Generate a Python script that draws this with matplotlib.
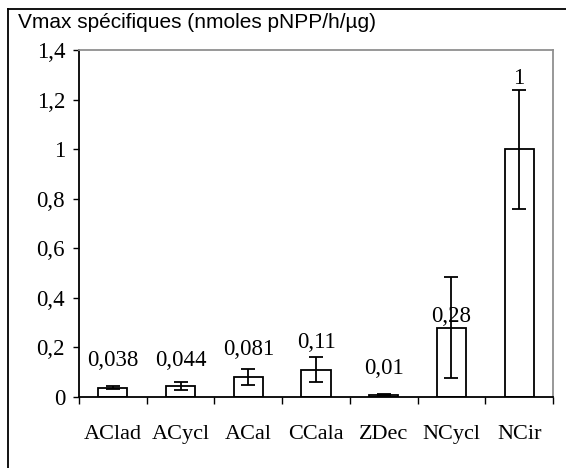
import matplotlib.pyplot as plt
from matplotlib.lines import Line2D
from matplotlib.ticker import FuncFormatter
import numpy as np

# Data
categories = ['AClad', 'ACycl', 'ACal', 'CCala', 'ZDec', 'NCycl', 'NCir']
vmax = [0.038, 0.044, 0.081, 0.11, 0.01, 0.28, 1.0]
errors = [0.005, 0.015, 0.031, 0.05, 0.002, 0.205, 0.24]
value_labels = ['0,038', '0,044', '0,081', '0,11', '0,01', '0,28', '1']
label_heights = [0.146, 0.146, 0.19, 0.221, 0.117, 0.323, 1.285]

serif = 'Liberation Serif'
sans = 'Liberation Sans'

fig = plt.figure(figsize=(5.66, 4.68), dpi=100)
ax = fig.add_axes([79 / 566, 71 / 468, 474 / 566, 347 / 468])

x = np.arange(len(categories))
ax.bar(x, vmax, width=0.43, color='white', edgecolor='black', linewidth=1.3, zorder=2)
ax.errorbar(x, vmax, yerr=errors, fmt='none', ecolor='black', elinewidth=1.3,
            capsize=5, capthick=1.3, zorder=3)

for xi, lab, h in zip(x, value_labels, label_heights):
    ax.text(xi, h, lab, ha='center', va='center', fontsize=16.5, family=serif)

ax.set_xlim(-0.5, len(categories) - 0.5)
ax.set_ylim(0, 1.4)
ax.set_yticks(np.arange(0, 1.41, 0.2))
ax.yaxis.set_major_formatter(FuncFormatter(lambda v, p: ('%g' % round(v, 1)).replace('.', ',')))

# ticks at category boundaries, labels centred
ax.set_xticks(np.arange(-0.5, len(categories), 1))
ax.set_xticklabels([])
ax.set_xticks(x, minor=True)
ax.set_xticklabels(categories, minor=True)
ax.tick_params(axis='x', which='major', direction='out', length=5, width=1)
ax.tick_params(axis='x', which='minor', length=0, pad=20, labelsize=16)
ax.tick_params(axis='y', direction='out', length=4, width=1, pad=6, labelsize=16.5)
for t in ax.get_xticklabels(minor=True) + ax.get_yticklabels():
    t.set_family(serif)

for s in ['top', 'right']:
    ax.spines[s].set_color('#909090')
    ax.spines[s].set_linewidth(1.3)
for s in ['left', 'bottom']:
    ax.spines[s].set_color('black')
    ax.spines[s].set_linewidth(1.3)

# outer chart frame (only top and left edges visible)
fig.add_artist(Line2D([7.5 / 566, 7.5 / 566], [0, 1 - 9 / 468], transform=fig.transFigure,
                      color='black', linewidth=1.3))
fig.add_artist(Line2D([7.5 / 566, 1], [1 - 9 / 468, 1 - 9 / 468], transform=fig.transFigure,
                      color='black', linewidth=1.3))

fig.text(18 / 566, 1 - 22 / 468, 'Vmax spécifiques (nmoles pNPP/h/µg)', ha='left', va='center',
         fontsize=15, family=sans)

fig.savefig('out.png', dpi=100)
